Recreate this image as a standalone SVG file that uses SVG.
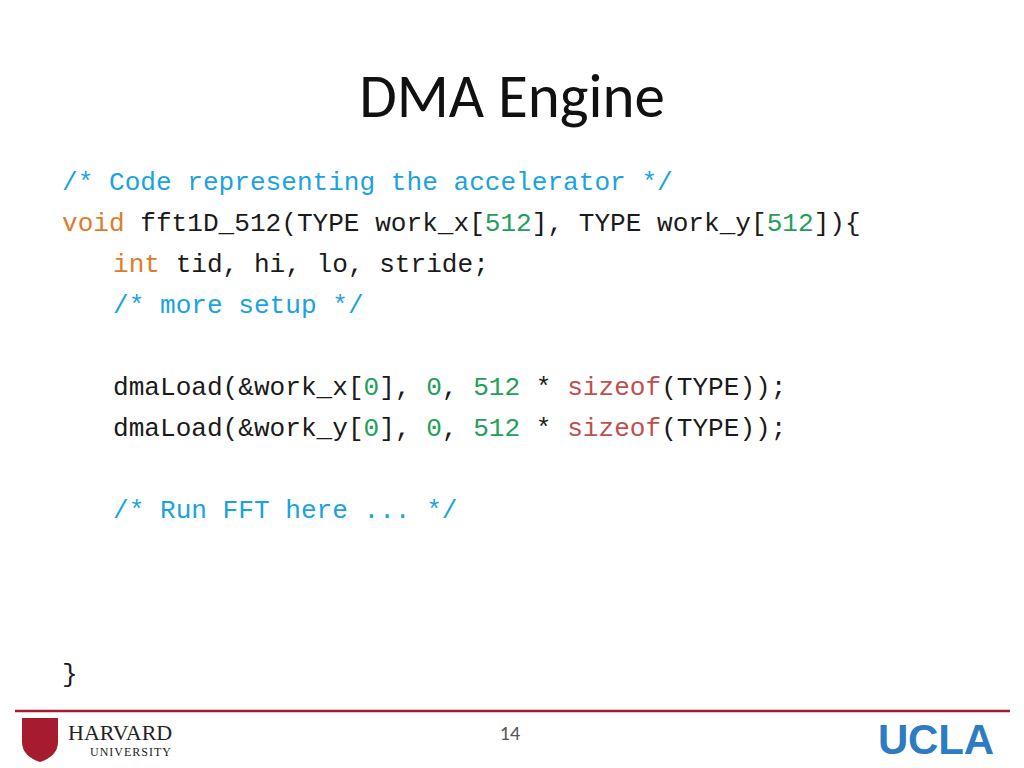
<svg xmlns="http://www.w3.org/2000/svg" width="1024" height="768" viewBox="0 0 1024 768">
<style>
.c{font-family:"Liberation Mono",monospace;font-size:26.1px;fill:#1a1a1a}
.cm{fill:#1aa3e0}.kw{fill:#e07b2c}.n{fill:#22a05a}.sz{fill:#c0504d}
</style>
<rect width="1024" height="768" fill="#fff"/>
<text x="512" y="117" text-anchor="middle" font-family="Carlito,'Liberation Sans',sans-serif" font-size="61" fill="#111">DMA Engine</text>
<g id="code" xml:space="preserve">
<text class="c" x="62" y="190"><tspan class="cm">/* Code representing the accelerator */</tspan></text>
<text class="c" x="62" y="231"><tspan class="kw">void</tspan> fft1D_512(TYPE work_x[<tspan class="n">512</tspan>], TYPE work_y[<tspan class="n">512</tspan>]){</text>
<text class="c" x="113" y="272"><tspan class="kw">int</tspan> tid, hi, lo, stride;</text>
<text class="c" x="113" y="313"><tspan class="cm">/* more setup */</tspan></text>
<text class="c" x="113" y="395">dmaLoad(&amp;work_x[<tspan class="n">0</tspan>], <tspan class="n">0</tspan>, <tspan class="n">512</tspan> * <tspan class="sz">sizeof</tspan>(TYPE));</text>
<text class="c" x="113" y="436">dmaLoad(&amp;work_y[<tspan class="n">0</tspan>], <tspan class="n">0</tspan>, <tspan class="n">512</tspan> * <tspan class="sz">sizeof</tspan>(TYPE));</text>
<text class="c" x="113" y="518"><tspan class="cm">/* Run FFT here ... */</tspan></text>
<text class="c" x="62" y="682">}</text>
</g>
<g id="footer">
<line x1="15" y1="711" x2="1010" y2="711" stroke="#a51c30" stroke-width="2.5"/>
<text x="510" y="740" text-anchor="middle" font-family="Carlito,'Liberation Sans',sans-serif" font-size="20" fill="#555">14</text>
<path d="M22 718 H58 V742 Q58 756 40 762 Q22 756 22 742 Z" fill="#a51c30"/>
<text x="68" y="740" font-family="'Liberation Serif',serif" font-size="22" fill="#222">HARVARD</text>
<text x="90" y="756" font-family="'Liberation Serif',serif" font-size="12" fill="#222" letter-spacing="1">UNIVERSITY</text>
<text x="878" y="754" font-family="'Liberation Sans',sans-serif" font-weight="bold" font-size="42" fill="#2d7cc1" textLength="116">UCLA</text>
</g>
</svg>
